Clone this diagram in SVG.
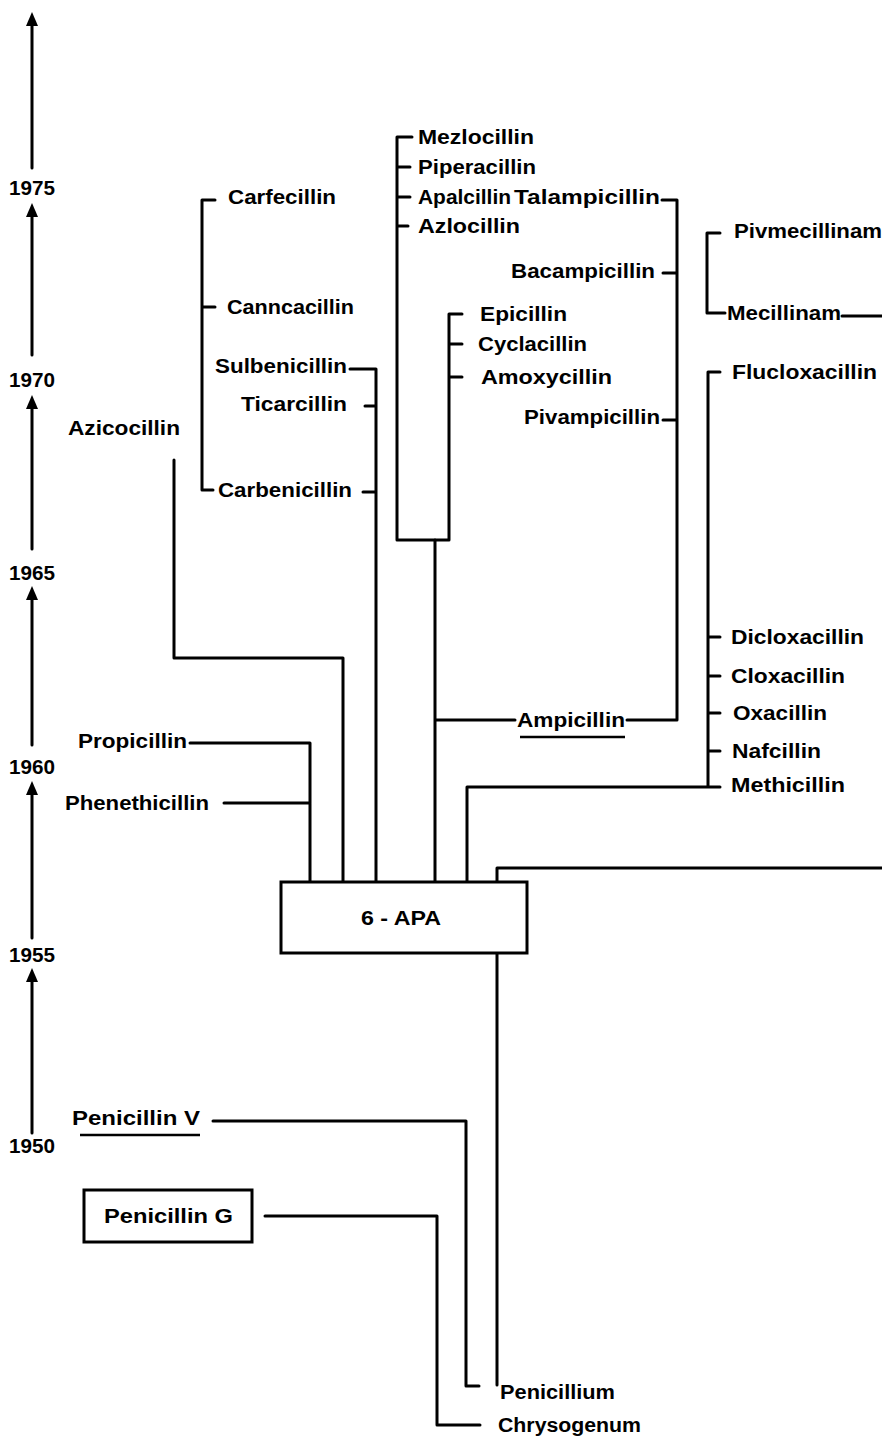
<svg xmlns="http://www.w3.org/2000/svg" width="882" height="1440" viewBox="0 0 882 1440">
<style>
text{font-family:"Liberation Sans",Arial,sans-serif;font-weight:bold;font-size:20px;fill:#000}
.yr{font-size:20px;text-anchor:middle}
.c{text-anchor:middle}
.ln{fill:none;stroke:#000;stroke-width:3;stroke-linejoin:round;stroke-linecap:round}
.ul{fill:none;stroke:#000;stroke-width:2.5}
.bx{fill:#fff;stroke:#000;stroke-width:3}
</style>
<g id="axis">
<g fill="#000">
<path d="M32,12 L26,26 L38,26 Z"/>
<path d="M32,203 L26,217 L38,217 Z"/>
<path d="M32,395 L26,409 L38,409 Z"/>
<path d="M32,586 L26,600 L38,600 Z"/>
<path d="M32,781 L26,795 L38,795 Z"/>
<path d="M32,968 L26,982 L38,982 Z"/>
</g>
<path class="ln" d="M32,20 V168 M32,212 V355 M32,404 V549 M32,595 V745 M32,790 V938 M32,977 V1133"/>
<text class="yr" x="32" y="195" textLength="46" lengthAdjust="spacingAndGlyphs">1975</text>
<text class="yr" x="32" y="387" textLength="46" lengthAdjust="spacingAndGlyphs">1970</text>
<text class="yr" x="32" y="580" textLength="46" lengthAdjust="spacingAndGlyphs">1965</text>
<text class="yr" x="32" y="774" textLength="46" lengthAdjust="spacingAndGlyphs">1960</text>
<text class="yr" x="32" y="962" textLength="46" lengthAdjust="spacingAndGlyphs">1955</text>
<text class="yr" x="32" y="1153" textLength="46" lengthAdjust="spacingAndGlyphs">1950</text>
</g>
<g id="connectors">
<path class="ln" d="M215,200 H202 V490 H213 M202,307 H215"/>
<path class="ln" d="M350,369 H376 V882 M365,406 H376 M363,492 H376"/>
<path class="ln" d="M174,460 V658 H343 V882"/>
<path class="ln" d="M412,137 H397 V540 H449 V314 H462 M397,167 H410 M397,197 H410 M397,226 H408 M449,344 H462 M449,377 H462"/>
<path class="ln" d="M435,540 V882 M435,720 H515"/>
<path class="ln" d="M662,200 H677 V720 H627 M663,273 H677 M663,420 H677"/>
<path class="ul" d="M520,737 H625"/>
<path class="ln" d="M720,233 H707 V313 H725 M842,316 H882"/>
<path class="ln" d="M720,372 H708 V787 H467 V882 M708,637 H720 M708,676 H720 M708,713 H720 M708,751 H720 M708,787 H720"/>
<path class="ln" d="M497,882 V868 H882"/>
<path class="ln" d="M190,743 H310 V882 M224,803 H310"/>
<path class="ln" d="M497,953 V1385"/>
<path class="ln" d="M213,1121 H466 V1386 H479"/>
<path class="ul" d="M80,1135 H200"/>
<path class="ln" d="M265,1216 H437 V1425 H480"/>
</g>
<g id="n-6apa"><rect class="bx" x="281" y="882" width="246" height="71"/><text class="c" x="401" y="925" textLength="80" lengthAdjust="spacingAndGlyphs">6 - APA</text></g>
<g id="n-pen-g"><rect class="bx" x="84" y="1190" width="168" height="52"/><text x="104" y="1223" textLength="129" lengthAdjust="spacingAndGlyphs">Penicillin G</text></g>
<g id="n-pen-v"><text x="72" y="1125" textLength="128" lengthAdjust="spacingAndGlyphs">Penicillin V</text></g>
<g id="n-penicillium"><text x="500" y="1399" textLength="115" lengthAdjust="spacingAndGlyphs">Penicillium</text></g>
<g id="n-chrysogenum"><text x="498" y="1432" textLength="143" lengthAdjust="spacingAndGlyphs">Chrysogenum</text></g>
<g id="n-mezlocillin"><text x="418" y="144" textLength="116" lengthAdjust="spacingAndGlyphs">Mezlocillin</text></g>
<g id="n-piperacillin"><text x="418" y="174" textLength="118" lengthAdjust="spacingAndGlyphs">Piperacillin</text></g>
<g id="n-apalcillin"><text x="418" y="204" textLength="93" lengthAdjust="spacingAndGlyphs">Apalcillin</text></g>
<g id="n-talampicillin"><text x="514" y="204" textLength="146" lengthAdjust="spacingAndGlyphs">Talampicillin</text></g>
<g id="n-azlocillin"><text x="418" y="233" textLength="102" lengthAdjust="spacingAndGlyphs">Azlocillin</text></g>
<g id="n-carfecillin"><text x="228" y="204" textLength="108" lengthAdjust="spacingAndGlyphs">Carfecillin</text></g>
<g id="n-canncacillin"><text x="227" y="314" textLength="127" lengthAdjust="spacingAndGlyphs">Canncacillin</text></g>
<g id="n-bacampicillin"><text x="511" y="278" textLength="144" lengthAdjust="spacingAndGlyphs">Bacampicillin</text></g>
<g id="n-pivmecillinam"><text x="734" y="238" textLength="148" lengthAdjust="spacingAndGlyphs">Pivmecillinam</text></g>
<g id="n-mecillinam"><text x="727" y="320" textLength="114" lengthAdjust="spacingAndGlyphs">Mecillinam</text></g>
<g id="n-epicillin"><text x="480" y="321" textLength="87" lengthAdjust="spacingAndGlyphs">Epicillin</text></g>
<g id="n-cyclacillin"><text x="478" y="351" textLength="109" lengthAdjust="spacingAndGlyphs">Cyclacillin</text></g>
<g id="n-amoxycillin"><text x="481" y="384" textLength="131" lengthAdjust="spacingAndGlyphs">Amoxycillin</text></g>
<g id="n-sulbenicillin"><text x="215" y="373" textLength="132" lengthAdjust="spacingAndGlyphs">Sulbenicillin</text></g>
<g id="n-ticarcillin"><text x="241" y="411" textLength="106" lengthAdjust="spacingAndGlyphs">Ticarcillin</text></g>
<g id="n-flucloxacillin"><text x="732" y="379" textLength="145" lengthAdjust="spacingAndGlyphs">Flucloxacillin</text></g>
<g id="n-pivampicillin"><text x="524" y="424" textLength="136" lengthAdjust="spacingAndGlyphs">Pivampicillin</text></g>
<g id="n-azicocillin"><text x="68" y="435" textLength="112" lengthAdjust="spacingAndGlyphs">Azicocillin</text></g>
<g id="n-carbenicillin"><text x="218" y="497" textLength="134" lengthAdjust="spacingAndGlyphs">Carbenicillin</text></g>
<g id="n-dicloxacillin"><text x="731" y="644" textLength="133" lengthAdjust="spacingAndGlyphs">Dicloxacillin</text></g>
<g id="n-cloxacillin"><text x="731" y="683" textLength="114" lengthAdjust="spacingAndGlyphs">Cloxacillin</text></g>
<g id="n-oxacillin"><text x="733" y="720" textLength="94" lengthAdjust="spacingAndGlyphs">Oxacillin</text></g>
<g id="n-ampicillin"><text x="517" y="727" textLength="108" lengthAdjust="spacingAndGlyphs">Ampicillin</text></g>
<g id="n-nafcillin"><text x="732" y="758" textLength="89" lengthAdjust="spacingAndGlyphs">Nafcillin</text></g>
<g id="n-methicillin"><text x="731" y="792" textLength="114" lengthAdjust="spacingAndGlyphs">Methicillin</text></g>
<g id="n-propicillin"><text x="78" y="748" textLength="109" lengthAdjust="spacingAndGlyphs">Propicillin</text></g>
<g id="n-phenethicillin"><text x="65" y="810" textLength="144" lengthAdjust="spacingAndGlyphs">Phenethicillin</text></g>
</svg>
